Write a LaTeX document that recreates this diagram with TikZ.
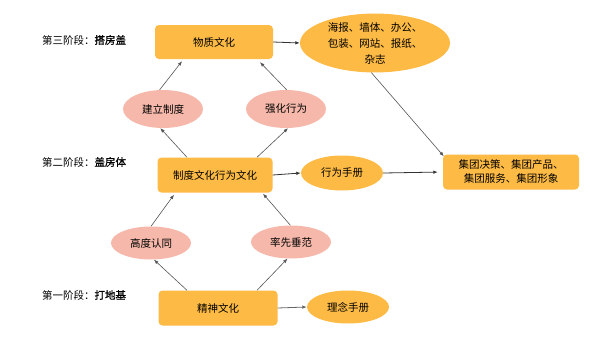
\documentclass[tikz,border=0pt]{standalone}
\usepackage{fontspec}
\setmainfont{Noto Sans CJK SC}
\newfontfamily\cjkbold[FakeBold=1.2]{Noto Sans CJK SC}
\usetikzlibrary{shapes.geometric,arrows.meta,calc}
\definecolor{boxor}{HTML}{FDBA45}
\definecolor{elpink}{HTML}{F5B8AA}
\definecolor{linegray}{HTML}{555555}
\tikzset{
  x=1pt,y=-1pt,
  every node/.style={font=\fontsize{10.5}{15}\selectfont, text=black, inner sep=1pt},
  orbox/.style={draw=none, fill=boxor, rounded corners=4pt, align=center},
  orell/.style={ellipse, draw=none, fill=boxor, align=center},
  pkell/.style={ellipse, draw=none, fill=elpink},
  stagelbl/.style={anchor=center},
  arr/.style={draw=linegray, line width=0.6pt, -{Latex[length=4.5pt,width=3.5pt]}},
  harr/.style={draw=black!80, line width=0.8pt, -{Latex[length=4.5pt,width=3.5pt]}}
}
\begin{document}
\begin{tikzpicture}
\useasboundingbox (0,0) rectangle (590,351);
% stage labels
\node[stagelbl] (s3) at (84,40) {第三阶段：{\cjkbold 搭房盖}};
\node[stagelbl] (s2) at (84,162) {第二阶段：{\cjkbold 盖房体}};
\node[stagelbl] (s1) at (84,295) {第一阶段：{\cjkbold 打地基}};
% top row
\node[orbox, minimum width=118pt, minimum height=34pt] (wz) at (214,42) {物质文化};
\node[orell, minimum width=150pt, minimum height=57pt, inner sep=0pt, font=\fontsize{10.5}{16}\selectfont] (hb) at (375,43) {海报、墙体、办公、\\包装、网站、报纸、\\杂志};
\node[pkell, minimum width=80pt, minimum height=38pt] (jl) at (163,109) {建立制度};
\node[pkell, minimum width=80pt, minimum height=38pt] (qh) at (286,109) {强化行为};
% middle row
\node[orbox, minimum width=115pt, minimum height=35pt] (zd) at (215,175) {制度文化行为文化};
\node[orell, minimum width=82pt, minimum height=35pt] (xw) at (342,173) {行为手册};
\node[orbox, minimum width=136pt, minimum height=35pt, font=\fontsize{10.5}{14}\selectfont] (jt) at (511,172) {集团决策、集团产品、\\集团服务、集团形象};
\node[pkell, minimum width=80pt, minimum height=33pt] (gd) at (151,243) {高度认同};
\node[pkell, minimum width=80pt, minimum height=33pt] (lx) at (291,242) {率先垂范};
% bottom row
\node[orbox, minimum width=119pt, minimum height=35pt] (js) at (218,308) {精神文化};
\node[orell, minimum width=82pt, minimum height=33pt] (ln) at (348,307) {理念手册};
% connectors
\draw[harr] (wz.east) -- (hb.west);
\draw[arr] (hb.263) -- ([xshift=1pt,yshift=-2pt]jt.north west);
\draw[arr] (jl.100) -- ([xshift=-32pt,yshift=-2pt]wz.south);
\draw[arr] (qh.88) -- ([xshift=46pt,yshift=-3pt]wz.south);
\draw[arr] ([xshift=-28pt]zd.north) -- (jl.262);
\draw[arr] ([xshift=42pt]zd.north) -- (qh.276);
\draw[harr] (zd.east) -- (xw.west);
\draw[harr, shorten >=5pt] (xw.east) -- (jt.west);
\draw[arr] (gd.north) -- ([xshift=-41pt,yshift=-2pt]zd.south);
\draw[arr] (lx.92) -- ([xshift=48pt,yshift=-1pt]zd.south);
\draw[arr] ([xshift=-31pt]js.north) -- (gd.280);
\draw[arr] ([xshift=39pt]js.north) -- (lx.258);
\draw[harr, draw=black!60] (js.east) -- (ln.west);
\end{tikzpicture}
\end{document}
